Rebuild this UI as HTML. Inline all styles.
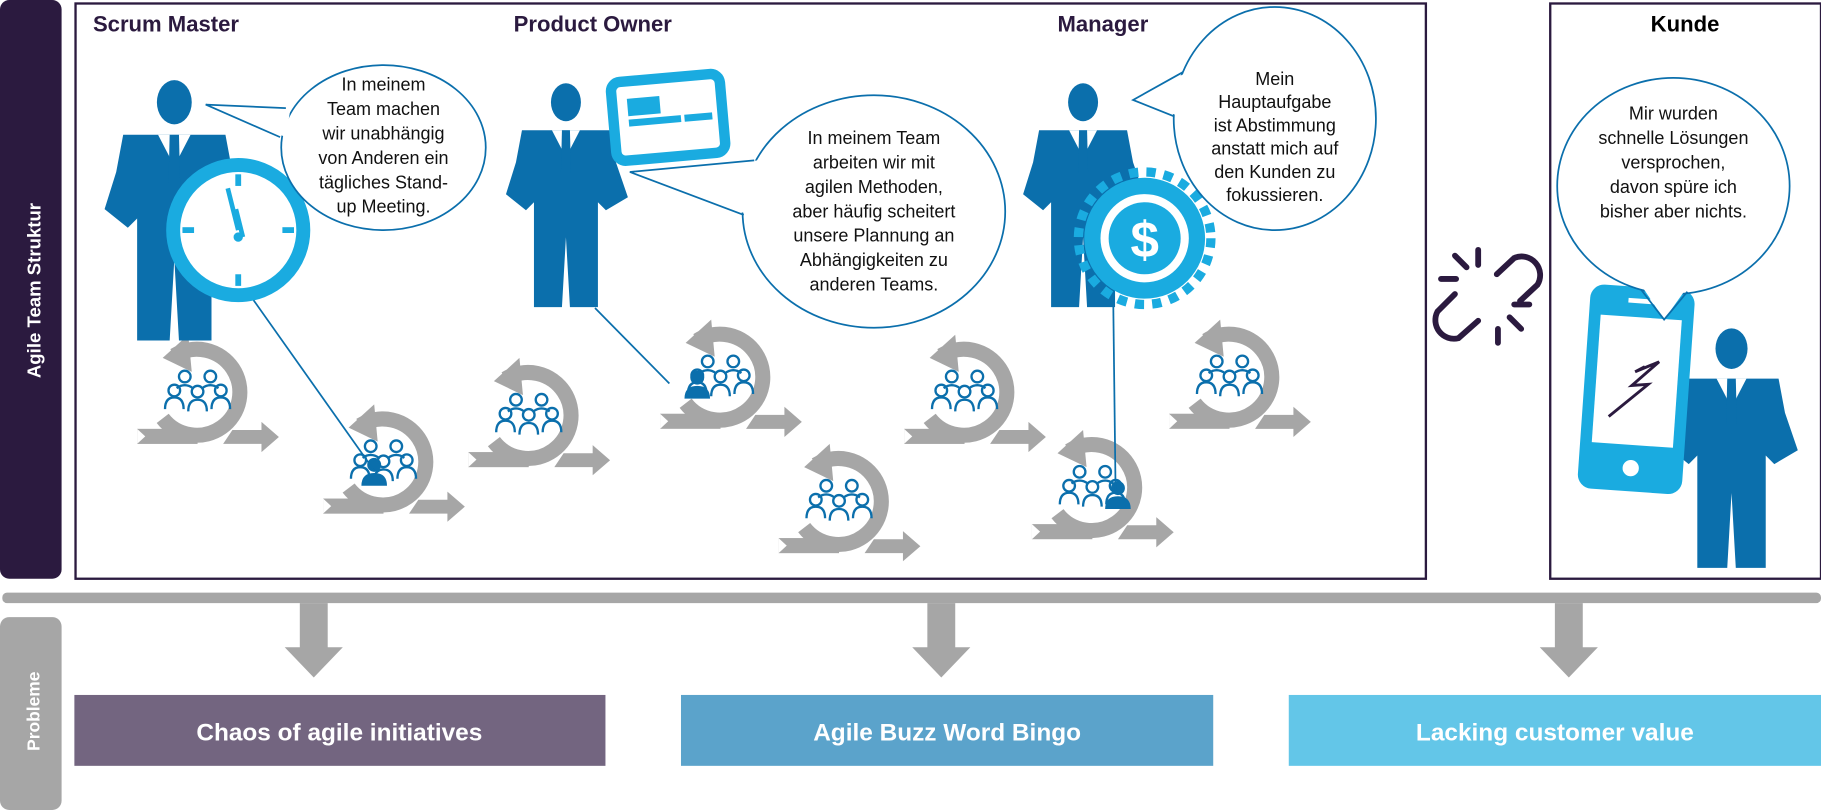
<!DOCTYPE html>
<html><head><meta charset="utf-8"><style>
html,body{margin:0;padding:0;background:#fff;}
svg{display:block;}
text{font-family:"Liberation Sans",sans-serif;}
</style></head><body>
<svg width="1821" height="810" viewBox="0 0 1567 697" preserveAspectRatio="none" xmlns="http://www.w3.org/2000/svg">
<defs>
<g id="man">
  <ellipse cx="0" cy="0" rx="15" ry="19" fill="#0b6fac"/>
  <path d="M-44,28 L44,28 L50,60 L62,95 L40,108 L32,100 L32,205 L4,205 L0,135 L-4,205 L-32,205 L-32,100 L-40,108 L-60,92 L-50,60 Z" fill="#0b6fac"/>
  <path d="M-14,28 L0,55 L14,28 Z" fill="#fff"/>
  <path d="M-4,28 L4,28 L5,70 L0,80 L-5,70 Z" fill="#0b6fac"/>
</g>
<g id="team">
  <path d="M-30,22 A37,37 0 1 0 -20,-32" fill="none" stroke="#a6a6a6" stroke-width="13"/>
  <path d="M-8,-50 L-30,-30 L-5,-18 Z" fill="#a6a6a6"/>
  <rect x="-52" y="31" width="52" height="13" fill="#a6a6a6"/>
  <path d="M-52,31 L-45,37.5 L-52,44 Z" fill="#fff"/>
  <path d="M30,32 L55,32 L55,25 L70,38 L55,51 L55,44 L22,44 Z" fill="#a6a6a6"/>
  <g fill="none" stroke="#0b6fac" stroke-width="2">
    <circle cx="-11" cy="-14" r="5"/><circle cx="11" cy="-14" r="5"/>
    <circle cx="-20" cy="-2" r="5"/><circle cx="0" cy="-1" r="5"/><circle cx="20" cy="-2" r="5"/>
    <path d="M-28,14 Q-28,4 -20,4 Q-12,4 -12,14 M-8,16 Q-8,6 0,6 Q8,6 8,16 M12,14 Q12,4 20,4 Q28,4 28,14 M-18,-4 Q-11,-9 -4,-4 M4,-4 Q11,-9 18,-4"/>
  </g>
</g>
<g id="solid"><circle cx="0" cy="-8" r="6" fill="#0b6fac"/><path d="M-11,10 Q-11,-1 0,-1 Q11,-1 11,10 Z" fill="#0b6fac"/></g>
</defs>

<rect x="0" y="0" width="53" height="498" rx="8" fill="#2b1a3f"/>
<text transform="translate(35,250) rotate(-90)" text-anchor="middle" font-size="16" font-weight="bold" fill="#fff">Agile Team Struktur</text>
<rect x="0" y="531" width="53" height="166" rx="8" fill="#a6a6a6"/>
<text transform="translate(34,612) rotate(-90)" text-anchor="middle" font-size="15" font-weight="bold" fill="#fff">Probleme</text>

<rect x="65" y="3" width="1162" height="495" fill="none" stroke="#2b1a3f" stroke-width="2"/>
<rect x="1334" y="3" width="233" height="495" fill="none" stroke="#2b1a3f" stroke-width="2"/>

<text x="80" y="27" font-size="19" font-weight="bold" fill="#2b1a3f">Scrum Master</text>
<text x="442" y="27" font-size="19" font-weight="bold" fill="#2b1a3f">Product Owner</text>
<text x="910" y="27" font-size="19" font-weight="bold" fill="#2b1a3f">Manager</text>
<text x="1450" y="27" font-size="19" font-weight="bold" fill="#000" text-anchor="middle">Kunde</text>

<use href="#team" transform="translate(170,338)"/>
<use href="#team" transform="translate(330,398)"/>
<use href="#team" transform="translate(455,358)"/>
<use href="#team" transform="translate(620,325)"/>
<use href="#team" transform="translate(722,432)"/>
<use href="#team" transform="translate(830,338)"/>
<use href="#team" transform="translate(940,420)"/>
<use href="#team" transform="translate(1058,325)"/>
<use href="#solid" transform="translate(322,408)"/>
<use href="#solid" transform="translate(600,333)"/>
<use href="#solid" transform="translate(962,428)"/>

<g stroke="#0b6fac" stroke-width="1.5">
<line x1="218" y1="258" x2="322" y2="405"/>
<line x1="512" y1="265" x2="576" y2="330"/>
<line x1="958" y1="262" x2="960" y2="425"/>
</g>

<use href="#man" transform="translate(150,88)"/>
<use href="#man" transform="translate(487,88) scale(0.86)"/>
<use href="#man" transform="translate(932,88) scale(0.86)"/>
<use href="#man" transform="translate(1490,300) scale(0.92)"/>

<circle cx="205" cy="198" r="56" fill="#fff" stroke="#1aabe0" stroke-width="12"/>
<g stroke="#1aabe0" stroke-width="5">
<line x1="205" y1="150" x2="205" y2="160"/><line x1="205" y1="236" x2="205" y2="246"/>
<line x1="157" y1="198" x2="167" y2="198"/><line x1="243" y1="198" x2="253" y2="198"/>
</g>
<path d="M203,180 L209,204 M196,162 L205,198" stroke="#1aabe0" stroke-width="4"/>
<circle cx="205" cy="204" r="4" fill="#1aabe0"/>

<g transform="translate(575,102) rotate(-5)">
<rect x="-47" y="-35" width="94" height="68" rx="8" fill="#fff" stroke="#1aabe0" stroke-width="9"/>
<rect x="-34" y="-20" width="28" height="15" fill="#1aabe0"/>
<rect x="-34" y="-2" width="45" height="6" fill="#1aabe0"/><rect x="14" y="-2" width="24" height="6" fill="#1aabe0"/>
</g>

<circle cx="985" cy="205" r="52" fill="#1aabe0"/>
<circle cx="985" cy="205" r="57" fill="none" stroke="#1aabe0" stroke-width="8" stroke-dasharray="8 7"/>
<circle cx="985" cy="205" r="38" fill="#fff"/>
<circle cx="985" cy="205" r="31" fill="#1aabe0"/>
<text x="985" y="221" text-anchor="middle" font-size="44" font-weight="bold" fill="#fff">$</text>

<g transform="translate(1408,335) rotate(4)">
<rect x="-45" y="-88" width="90" height="176" rx="12" fill="#1aabe0"/>
<rect x="-35" y="-62" width="70" height="110" fill="#fff"/>
<rect x="-12" y="-78" width="24" height="4" fill="#fff"/>
<circle cx="0" cy="68" r="7" fill="#fff"/>
<path d="M-22,25 L10,-5 L-4,-3 L18,-25 L-2,-15 L6,-20" fill="none" stroke="#2b1a3f" stroke-width="2.5"/>
</g>

<g fill="none" stroke="#2b1a3f" stroke-width="5" stroke-linecap="round">
<path d="M1288,236 L1303,222 A16,16 0 0 1 1323,245 L1308,259"/>
<path d="M1272,276 L1255,291 A16,16 0 0 1 1237,268 L1252,253"/>
<line x1="1272" y1="215" x2="1272" y2="228"/><line x1="1252" y1="220" x2="1262" y2="230"/><line x1="1240" y1="240" x2="1253" y2="240"/>
<line x1="1289" y1="283" x2="1289" y2="295"/><line x1="1299" y1="273" x2="1309" y2="283"/><line x1="1303" y1="262" x2="1316" y2="262"/>
</g>

<!-- bubbles -->
<g fill="#fff" stroke="#0b6fac" stroke-width="1.5">
<ellipse cx="330" cy="127" rx="88" ry="71"/>
<ellipse cx="752" cy="182" rx="113" ry="100"/>
<ellipse cx="1097" cy="102" rx="87" ry="96"/>
<ellipse cx="1440" cy="160" rx="100" ry="93"/>
</g>
<g fill="#fff" stroke="none">
<path d="M250,93 L177,90 L246,118 Z"/>
<path d="M652,138 L542,148 L645,185 Z"/>
<path d="M1022,62 L975,86 L1015,100 Z"/>
<path d="M1412,245 L1432,275 L1452,247 Z"/>
</g>
<g fill="none" stroke="#0b6fac" stroke-width="1.5">
<path d="M246,93 L177,90 L241,118"/>
<path d="M649,138 L542,148 L640,185"/>
<path d="M1018,62 L975,86 L1010,100"/>
<path d="M1412,249 L1432,275 L1452,251"/>
</g>
<g font-size="15.5" fill="#111" text-anchor="middle">
<text x="330" y="78">In meinem</text><text x="330" y="99">Team machen</text><text x="330" y="120">wir unabhängig</text><text x="330" y="141">von Anderen ein</text><text x="330" y="162">tägliches Stand-</text><text x="330" y="183">up Meeting.</text>
<text x="752" y="124">In meinem Team</text><text x="752" y="145">arbeiten wir mit</text><text x="752" y="166">agilen Methoden,</text><text x="752" y="187">aber häufig scheitert</text><text x="752" y="208">unsere Plannung an</text><text x="752" y="229">Abhängigkeiten zu</text><text x="752" y="250">anderen Teams.</text>
<text x="1097" y="73">Mein</text><text x="1097" y="93">Hauptaufgabe</text><text x="1097" y="113">ist Abstimmung</text><text x="1097" y="133">anstatt mich auf</text><text x="1097" y="153">den Kunden zu</text><text x="1097" y="173">fokussieren.</text>
<text x="1440" y="103">Mir wurden</text><text x="1440" y="124">schnelle Lösungen</text><text x="1440" y="145">versprochen,</text><text x="1440" y="166">davon spüre ich</text><text x="1440" y="187">bisher aber nichts.</text>
</g>

<rect x="2" y="510" width="1565" height="9" rx="4" fill="#a6a6a6"/>
<g fill="#a6a6a6">
<path d="M258,519 L282,519 L282,557 L295,557 L270,583 L245,557 L258,557 Z"/>
<path d="M798,519 L822,519 L822,557 L835,557 L810,583 L785,557 L798,557 Z"/>
<path d="M1338,519 L1362,519 L1362,557 L1375,557 L1350,583 L1325,557 L1338,557 Z"/>
</g>
<rect x="64" y="598" width="457" height="61" fill="#736580"/>
<rect x="586" y="598" width="458" height="61" fill="#5ba3cb"/>
<rect x="1109" y="598" width="458" height="61" fill="#63c6e8"/>
<g font-size="21" font-weight="bold" fill="#fff" text-anchor="middle">
<text x="292" y="637">Chaos of agile initiatives</text>
<text x="815" y="637">Agile Buzz Word Bingo</text>
<text x="1338" y="637">Lacking customer value</text>
</g>
</svg>
</body></html>
